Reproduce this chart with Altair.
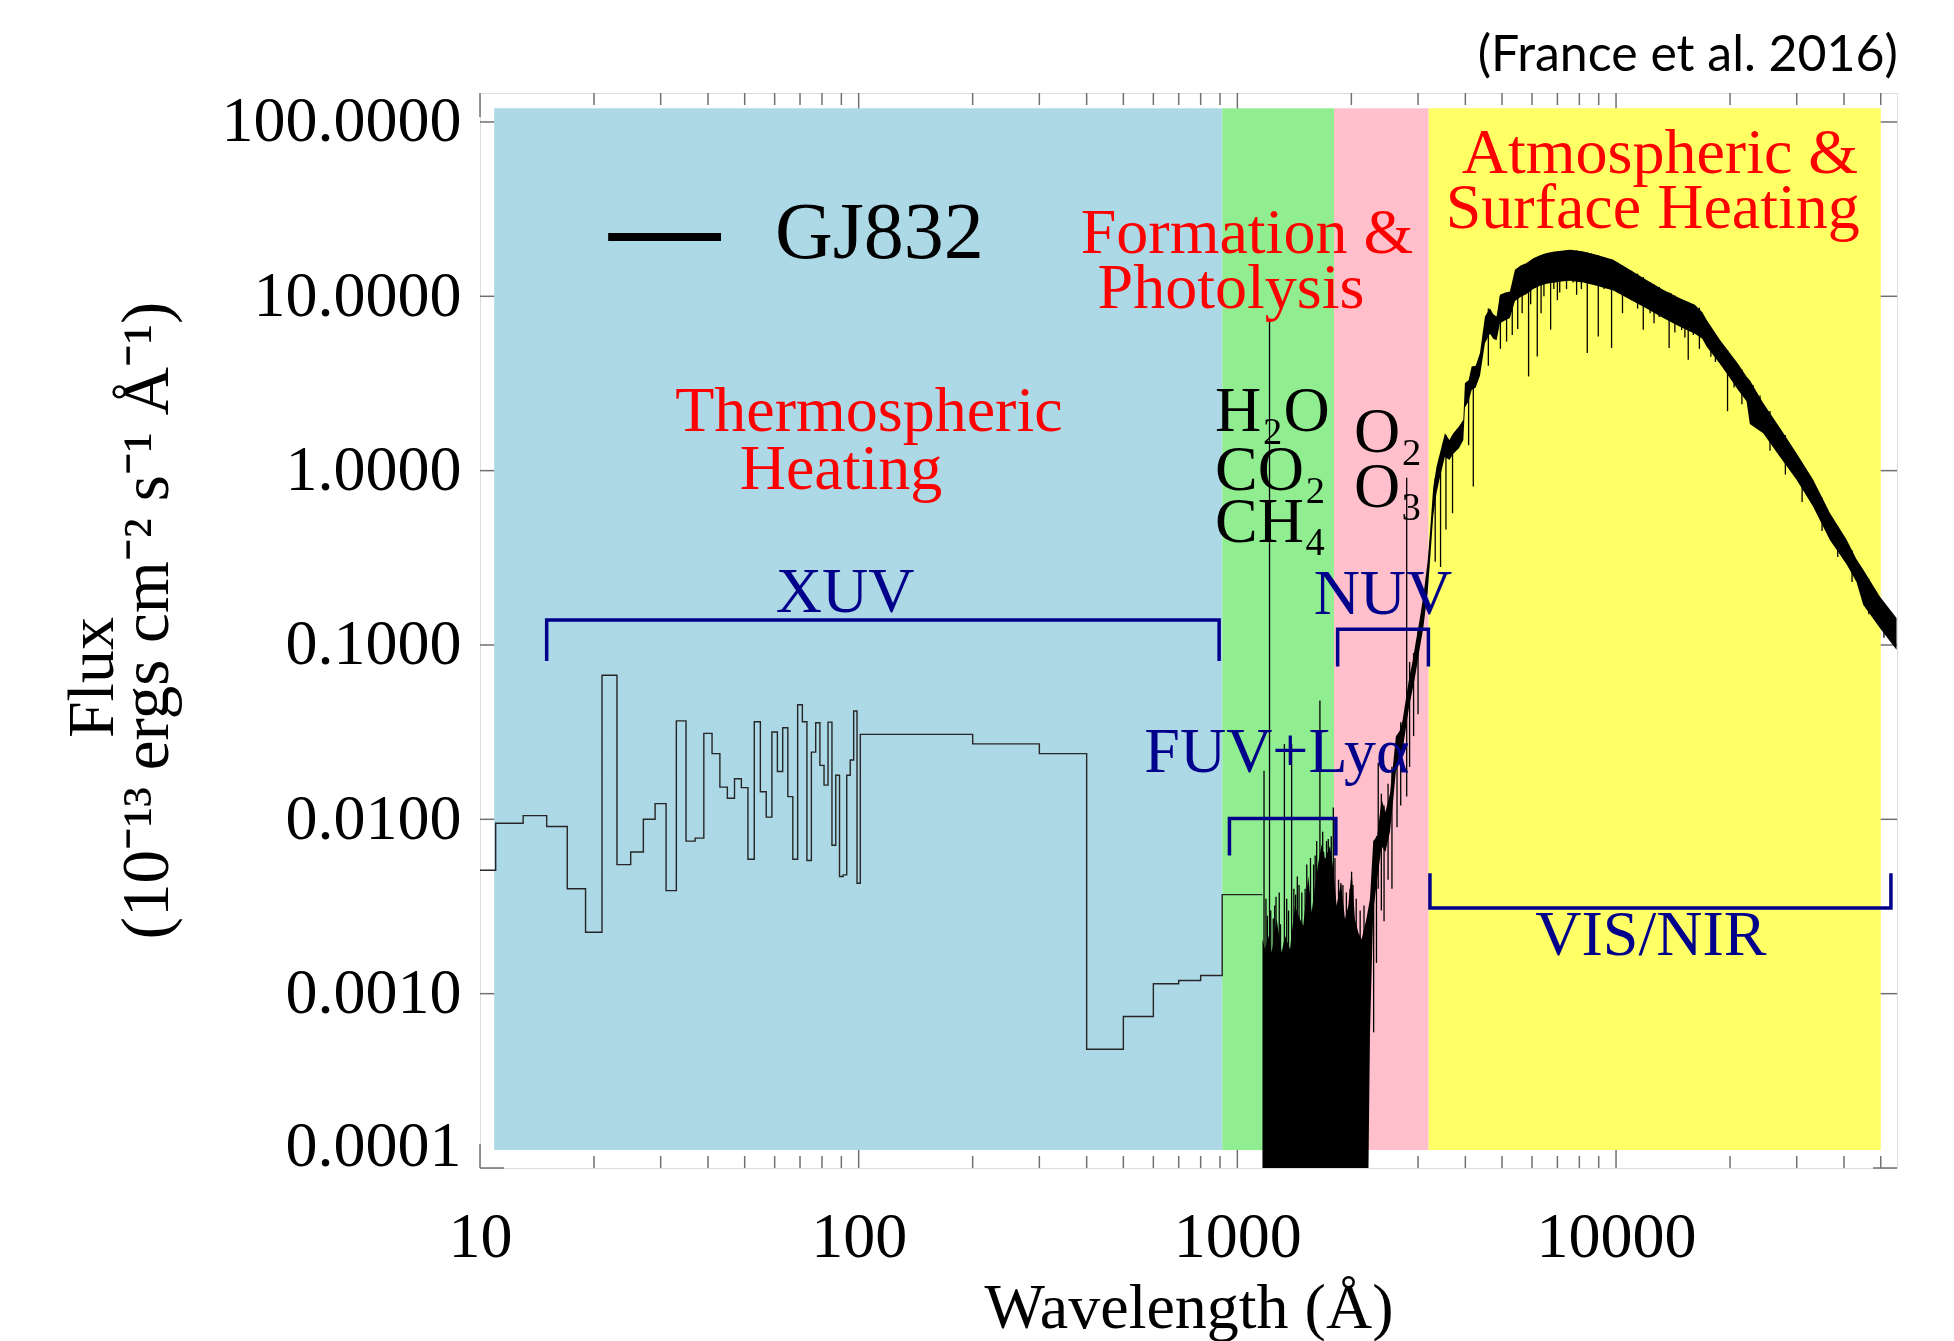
import altair as alt
import pandas as pd

SERIF = "Liberation Serif"
NAVY = "#00008B"
FRAME = "#707070"

# ---- plot ranges -------------------------------------------------------
X_DOMAIN = [10, 55200]
Y_DOMAIN = [1e-4, 146.6]
FLOOR = 1e-5  # flux used for the bottom of the dense FUV forest (clipped)

# ---- shaded wavelength regimes -----------------------------------------
region_lo = [10.9, 912, 1800, 3200]
region_hi = [912, 1800, 3200, 50000]
region_color = ["#ADD8E6", "#90EE90", "#FFC0CB", "#FFFF66"]
region_bottom = 1.27e-4
region_top = 120

# ---- XUV binned spectrum (bin edges in Angstrom, flux per bin) ---------
xuv_edges = [10, 11, 13, 15, 17, 19, 21, 23, 25, 27, 29, 31, 33, 35, 37, 39,
             41, 43, 45, 47, 49, 51, 53, 55, 57, 59, 61, 63, 65, 67, 69, 71,
             73, 75, 77, 79, 81, 83, 85, 87, 89, 91, 93, 95, 97, 99, 101,
             200, 300, 400, 500, 600, 700, 800, 912, 1165]
xuv_flux = [0.0051,
            0.0095, 0.0105, 0.0091, 0.0040, 0.00225, 0.067, 0.0055, 0.0065, 0.0100, 0.0123,
            0.0039, 0.0367, 0.0075, 0.0078, 0.0311, 0.0238, 0.0153, 0.0132, 0.0171, 0.0152,
            0.0059, 0.0363, 0.0144, 0.0103, 0.0317, 0.0188, 0.0335, 0.0135, 0.0059, 0.0454,
            0.0363, 0.0058, 0.0243, 0.0358, 0.0204, 0.0157, 0.0361, 0.0071, 0.0179, 0.0047,
            0.0048, 0.0179, 0.0219, 0.0418, 0.0043,
            0.0307, 0.0271, 0.0238, 0.00048, 0.00074, 0.00114, 0.00119, 0.00127, 0.0037]

# ---- FUV forest: upper envelope (lower edge runs off the plot) ---------
fuv_wl = [1165, 1183, 1207, 1232, 1270, 1309, 1336, 1377, 1419, 1463,
          1493, 1539, 1571, 1603, 1636, 1670, 1704, 1756, 1792, 1829,
          1877, 1924, 1963, 2003, 2044, 2086, 2129, 2193]
fuv_hi = [0.00205, 0.0018, 0.00215, 0.00172, 0.00267, 0.00172, 0.00215, 0.0018, 0.00319, 0.00267,
          0.00245, 0.00473, 0.00292, 0.00415, 0.00564, 0.00719, 0.0059, 0.00704, 0.00517, 0.00319,
          0.00434, 0.00267, 0.00319, 0.00506, 0.00267, 0.00224, 0.00205, 0.0027]

# ---- NUV rise: lower / upper envelope -----------------------------------
nuv_wl = [2240, 2285, 2340, 2404, 2460, 2529, 2580, 2622, 2680, 2731,
          2790, 2844, 2900, 2961, 3030, 3097, 3180]
nuv_lo = [0.0006, 0.0030, 0.0045, 0.0070, 0.0065, 0.0085, 0.013, 0.019, 0.021, 0.025,
          0.034, 0.045, 0.055, 0.07, 0.095, 0.125, 0.2]
nuv_hi = [0.0035, 0.0075, 0.0080, 0.0130, 0.0110, 0.0140, 0.021, 0.030, 0.032, 0.037,
          0.050, 0.065, 0.080, 0.105, 0.14, 0.19, 0.30]

# ---- optical / near-IR photosphere: lower / upper envelope -------------
vis_wl = [3226, 3290, 3359, 3440, 3533, 3630, 3718, 3850, 3951, 3990,
          4080, 4156, 4260, 4372, 4507, 4645, 4740, 4837, 4936, 5100,
          5245, 5408, 5600, 5805, 6045, 6300, 6556, 6900, 7254, 7555,
          7870, 8193, 8886, 9831, 10880, 12040, 13320, 14750, 16150, 16900,
          17340, 18800, 19980, 21000, 22110, 22560, 24470, 27080, 29970, 33160,
          36700, 40610, 43150, 44940, 49730, 55040]
vis_lo = [0.3, 0.55, 0.75, 0.95, 1.2, 1.15, 1.25, 1.35, 1.5, 2.3,
          2.5, 2.9, 3.0, 3.5, 5.4, 6.1, 5.7, 5.6, 7.0, 7.3,
          7.5, 9.4, 9.9, 10.3, 11.0, 11.5, 11.8, 12.0, 12.2, 12.3,
          12.1, 12.0, 11.5, 10.8, 9.6, 8.5, 7.5, 6.7, 6.1, 5.7,
          5.16, 4.1, 3.4, 2.9, 2.5, 1.85, 1.64, 1.2, 0.888, 0.62,
          0.40, 0.29, 0.23, 0.17, 0.125, 0.094]
vis_hi = [0.44, 0.8, 1.06, 1.3, 1.64, 1.5, 1.64, 1.8, 1.96, 3.18,
          3.3, 3.96, 4.0, 4.73, 7.66, 8.55, 7.9, 7.66, 10.2, 10.5,
          10.66, 14.2, 15.0, 15.5, 16.55, 17.2, 17.7, 18.1, 18.3, 18.5,
          18.3, 18.07, 17.3, 16.2, 14.2, 12.4, 10.9, 9.76, 8.94, 8.1,
          7.33, 5.63, 4.73, 4.1, 3.47, 3.3, 2.44, 1.76, 1.26, 0.888,
          0.572, 0.403, 0.31, 0.271, 0.19, 0.143]

# ---- individual emission / absorption lines ----------------------------
fuv_line_wl = [1176, 1190, 1200, 1216, 1225, 1244, 1255, 1265, 1290, 1300,
               1331, 1350, 1365, 1391, 1410, 1425, 1440, 1455, 1480, 1510,
               1525, 1560, 1590, 1605, 1620, 1652, 1680, 1690, 1720, 1738,
               1770, 1792, 1810, 1850, 1877, 1900, 1940, 1985, 2003, 2020,
               2060, 2110, 2160]
fuv_line_hi = [0.019, 0.0035, 0.0028, 7.2, 0.003, 0.0027, 0.0032, 0.0036, 0.0038, 0.0025,
               0.027, 0.0035, 0.003, 0.027, 0.004, 0.0037, 0.0047, 0.0042, 0.0038, 0.0040,
               0.0055, 0.006, 0.0055, 0.0062, 0.0075, 0.048, 0.0085, 0.0065, 0.0075, 0.0077,
               0.008, 0.0117, 0.006, 0.0045, 0.0043, 0.0042, 0.0038, 0.004, 0.0050, 0.0042,
               0.0035, 0.003, 0.0032]

line_wl = [2290, 2330, 2355, 2400, 2440, 2500, 2560, 2640, 2700, 2800, 2850, 2920, 3000,
           3330, 3440, 3555, 3700, 4080, 4198, 4600, 4950, 5140, 5320,
           5500, 5650, 5875, 5950, 6194, 6340, 6450, 6718, 6850, 7000,
           7100, 7400, 7700, 7868, 8100, 8395, 8600, 8976, 9300, 9732,
           10100, 10400, 11000, 11400, 11800, 12300, 12600, 13000, 13810, 14000,
           14300, 14900, 15200, 15510, 16000, 16600, 17800, 18300, 19700, 20500,
           21500, 23000, 24000, 25500, 28000, 31000, 35000, 38500, 42000, 46500, 51000]
line_lo = [0.0006, 0.0015, 0.004, 0.003, 0.0026, 0.0045, 0.004, 0.009, 0.012, 0.0135, 0.02, 0.03, 0.04,
           0.3, 0.28, 0.46, 0.57, 1.4, 0.81, 4.0, 5.0, 5.5, 6.0,
           6.5, 8.0, 3.47, 9.0, 4.52, 8.0, 10.0, 6.43, 11.0, 9.5,
           10.5, 11.0, 12.0, 10.2, 11.0, 4.73, 12.0, 5.89, 11.0, 5.05,
           10.5, 8.0, 9.5, 8.5, 6.43, 8.0, 7.0, 7.6, 5.05, 7.2,
           6.2, 6.4, 5.8, 4.33, 6.0, 5.0, 4.5, 4.2, 2.19, 3.0,
           2.4, 2.3, 1.9, 1.3, 0.95, 0.66, 0.45, 0.32, 0.23, 0.15, 0.11]
line_hi = [0.005, 0.008, 0.0211, 0.014, 0.012, 0.016, 0.02, 0.028, 0.036, 0.91, 0.08, 0.09, 0.12,
           0.9, 1.2, 1.6, 1.6, 3.2, 3.9, 8.5, 10.0, 10.5, 11.0,
           14.5, 15.0, 15.7, 16.0, 16.6, 17.0, 17.4, 17.8, 18.0, 18.1,
           18.2, 18.3, 18.4, 18.3, 18.1, 17.9, 17.6, 17.2, 16.8, 16.3,
           15.6, 15.0, 14.0, 13.5, 12.9, 12.0, 11.7, 11.3, 10.5, 10.4,
           10.1, 9.6, 9.4, 9.2, 9.0, 8.6, 6.5, 6.0, 4.9, 4.3,
           3.8, 3.1, 2.7, 2.2, 1.6, 1.1, 0.7, 0.48, 0.35, 0.24, 0.17]

# ---- band brackets -------------------------------------------------------
bracket_name = ["XUV", "FUV+Lyα", "NUV", "VIS/NIR"]
bracket_lo = [15, 953, 1840, 3225]
bracket_hi = [895, 1820, 3195, 53200]
bracket_level = [0.139, 0.0101, 0.123, 0.0031]
bracket_tip = [0.081, 0.0062, 0.0753, 0.0049]
bracket_label_x = [92.1, 1272, 2424, 12360]
bracket_label_y = [0.2, 0.0239, 0.193, 0.00214]

# ---- heating / chemistry annotations -----------------------------------
heat_text = ["Thermospheric", "Heating", "Formation &", "Photolysis",
             "Atmospheric &", "Surface Heating"]
heat_x = [106.4, 89.8, 1060, 962, 13060, 12500]
heat_y = [2.18, 1.01, 22.8, 11.0, 65.2, 31.7]

mol_text = ["H₂O", "CO₂", "CH₄", "O₂", "O₃"]
mol_x = [873, 873, 873, 2032, 2032]
mol_y = [2.18, 1.0, 0.503, 1.64, 0.795]

# ---- legend ---------------------------------------------------------------
legend_name = "GJ832"
legend_x = [21.8, 43.3]
legend_y = 21.9
legend_text_x = 60.1
legend_text_y = 22.8

# ---- first line of the flux-axis title (placed left of the axis) --------
flux_word = "Flux"
flux_word_x = 0.951
flux_word_y = 0.065

# ---- axis ticks -------------------------------------------------------------
x_major = [10, 100, 1000, 10000]
x_minor = [20, 30, 40, 50, 60, 70, 80, 90,
           200, 300, 400, 500, 600, 700, 800, 900,
           2000, 3000, 4000, 5000, 6000, 7000, 8000, 9000,
           20000, 30000, 40000, 50000]
y_major = [1e-4, 1e-3, 1e-2, 1e-1, 1, 10, 100]

W, H = 1417, 1075

xs = alt.Scale(type="log", domain=X_DOMAIN, nice=False)
ys = alt.Scale(type="log", domain=Y_DOMAIN, nice=False)

x_axis = alt.Axis(values=x_major, format="d", ticks=False, domain=False, grid=False,
                  labelFlush=False, labelOverlap=False, labelPadding=37, labelLimit=500,
                  labelFont=SERIF, labelFontSize=64, labelColor="black",
                  title="Wavelength (Å)", titleFont=SERIF, titleFontSize=64,
                  titleFontWeight="normal", titleColor="black",
                  titleY=159, titleBaseline="alphabetic")
y_axis = alt.Axis(values=y_major, format=".4f", ticks=False, domain=False, grid=False,
                  labelFlush=True, labelFlushOffset=10, labelOverlap=False,
                  labelPadding=19, labelLimit=500,
                  labelFont=SERIF, labelFontSize=64, labelColor="black",
                  title="(10⁻¹³ ergs cm⁻² s⁻¹ Å⁻¹)", titleLimit=1000,
                  titleFont=SERIF, titleFontSize=67, titleFontWeight="normal",
                  titleColor="black", titleAngle=270, titleAlign="center",
                  titleBaseline="middle", titleX=-333, titleY=527)


def X(field):
    return alt.X(field, type="quantitative", scale=xs, axis=x_axis)


def Y(field):
    return alt.Y(field, type="quantitative", scale=ys, axis=y_axis)


# ---- data frames ---------------------------------------------------------
regions = pd.DataFrame({"x0": region_lo, "x1": region_hi, "c": region_color,
                        "y0": region_bottom, "y1": region_top})

xuv_rows = [{"wl": xuv_edges[i], "f": xuv_flux[i]} for i in range(len(xuv_flux))]
xuv_rows.append({"wl": xuv_edges[-1], "f": xuv_flux[-1]})
xuv = pd.DataFrame(xuv_rows)

spec = pd.DataFrame({
    "wl": fuv_wl + nuv_wl + vis_wl,
    "lo": [FLOOR] * len(fuv_wl) + nuv_lo + vis_lo,
    "hi": fuv_hi + nuv_hi + vis_hi,
})

lines = pd.DataFrame({
    "wl": fuv_line_wl + line_wl,
    "lo": [FLOOR] * len(fuv_line_wl) + line_lo,
    "hi": fuv_line_hi + line_hi,
})

br_rows = []
for i, name in enumerate(bracket_name):
    pts = [(bracket_lo[i], bracket_tip[i]), (bracket_lo[i], bracket_level[i]),
           (bracket_hi[i], bracket_level[i]), (bracket_hi[i], bracket_tip[i])]
    for k, (bx, by) in enumerate(pts):
        br_rows.append({"name": name, "k": k, "wl": bx, "f": by})
brackets = pd.DataFrame(br_rows)
br_labels = pd.DataFrame({"t": bracket_name, "wl": bracket_label_x, "f": bracket_label_y})

heat = pd.DataFrame({"t": heat_text, "wl": heat_x, "f": heat_y})
mols = pd.DataFrame({"t": mol_text, "wl": mol_x, "f": mol_y})
leg_line = pd.DataFrame({"wl": legend_x, "f": [legend_y, legend_y]})
leg_text = pd.DataFrame({"t": [legend_name], "wl": [legend_text_x], "f": [legend_text_y]})
flux_df = pd.DataFrame({"t": [flux_word], "wl": [flux_word_x], "f": [flux_word_y]})

xmaj = pd.DataFrame({"v": x_major})
xmin = pd.DataFrame({"v": x_minor})
ymaj = pd.DataFrame({"v": y_major})

# ---- inward ticks on all four sides ------------------------------------
tick_kw = dict(color=FRAME, strokeWidth=1.5)
ticks = [
    alt.Chart(xmaj).mark_rule(**tick_kw).encode(x=X("v"), y=alt.value(H), y2=alt.value(H - 24)),
    alt.Chart(xmaj).mark_rule(**tick_kw).encode(x=X("v"), y=alt.value(0), y2=alt.value(24)),
    alt.Chart(xmin).mark_rule(**tick_kw).encode(x=X("v"), y=alt.value(H), y2=alt.value(H - 12)),
    alt.Chart(xmin).mark_rule(**tick_kw).encode(x=X("v"), y=alt.value(0), y2=alt.value(12)),
    alt.Chart(ymaj).mark_rule(**tick_kw).encode(y=Y("v"), x=alt.value(0), x2=alt.value(24)),
    alt.Chart(ymaj).mark_rule(**tick_kw).encode(y=Y("v"), x=alt.value(W), x2=alt.value(W - 24)),
]

# ---- shaded regimes ---------------------------------------------------------
region_layer = alt.Chart(regions).mark_rect().encode(
    x=X("x0"), x2="x1:Q", y=Y("y0"), y2="y1:Q",
    color=alt.Color("c:N", scale=None),
)

# ---- spectrum -------------------------------------------------------------
xuv_layer = alt.Chart(xuv).mark_line(
    interpolate="step-after", color="#262626", strokeWidth=1.4, clip=True
).encode(x=X("wl"), y=Y("f"))

band_layer = alt.Chart(spec).mark_area(color="black", clip=True).encode(
    x=X("wl"), y=Y("lo"), y2="hi:Q")

line_layer = alt.Chart(lines).mark_rule(color="black", strokeWidth=1.3, clip=True).encode(
    x=X("wl"), y=Y("lo"), y2="hi:Q")

# ---- band brackets and labels ----------------------------------------------
bracket_layer = alt.Chart(brackets).mark_line(
    color=NAVY, strokeWidth=3.5, strokeJoin="miter"
).encode(x=X("wl"), y=Y("f"), detail="name:N", order="k:Q")

bracket_text = alt.Chart(br_labels).mark_text(
    font=SERIF, fontSize=64, color=NAVY, align="center", baseline="middle"
).encode(x=X("wl"), y=Y("f"), text="t:N")

heat_layer = alt.Chart(heat).mark_text(
    font=SERIF, fontSize=64, color="#FF0000", align="center", baseline="middle"
).encode(x=X("wl"), y=Y("f"), text="t:N")

mol_layer = alt.Chart(mols).mark_text(
    font=SERIF, fontSize=64, color="black", align="left", baseline="middle"
).encode(x=X("wl"), y=Y("f"), text="t:N")

# ---- legend -------------------------------------------------------------------
leg_line_layer = alt.Chart(leg_line).mark_line(color="black", strokeWidth=8).encode(
    x=X("wl"), y=Y("f"))
leg_text_layer = alt.Chart(leg_text).mark_text(
    font=SERIF, fontSize=80, color="black", align="left", baseline="middle"
).encode(x=X("wl"), y=Y("f"), text="t:N")

# ---- "Flux" word of the y-axis title ---------------------------------------
flux_layer = alt.Chart(flux_df).mark_text(
    font=SERIF, fontSize=66, color="black", align="center", baseline="middle", angle=270
).encode(x=X("wl"), y=Y("f"), text="t:N")

chart = alt.layer(
    *ticks, region_layer, xuv_layer, band_layer, line_layer,
    bracket_layer, bracket_text, heat_layer, mol_layer,
    leg_line_layer, leg_text_layer, flux_layer,
).properties(
    width=W, height=H,
    padding={"left": 480, "top": 93, "right": 57, "bottom": 173},
    autosize=alt.AutoSizeParams(type="none"),
    title=alt.TitleParams("(France et al. 2016)", anchor="end", font="Lato",
                          fontSize=50, fontWeight="normal", color="black", offset=9),
).configure_view(stroke=FRAME, strokeWidth=2).configure(background="white")

chart.save("out.html", embed_options={"renderer": "svg", "actions": False})
